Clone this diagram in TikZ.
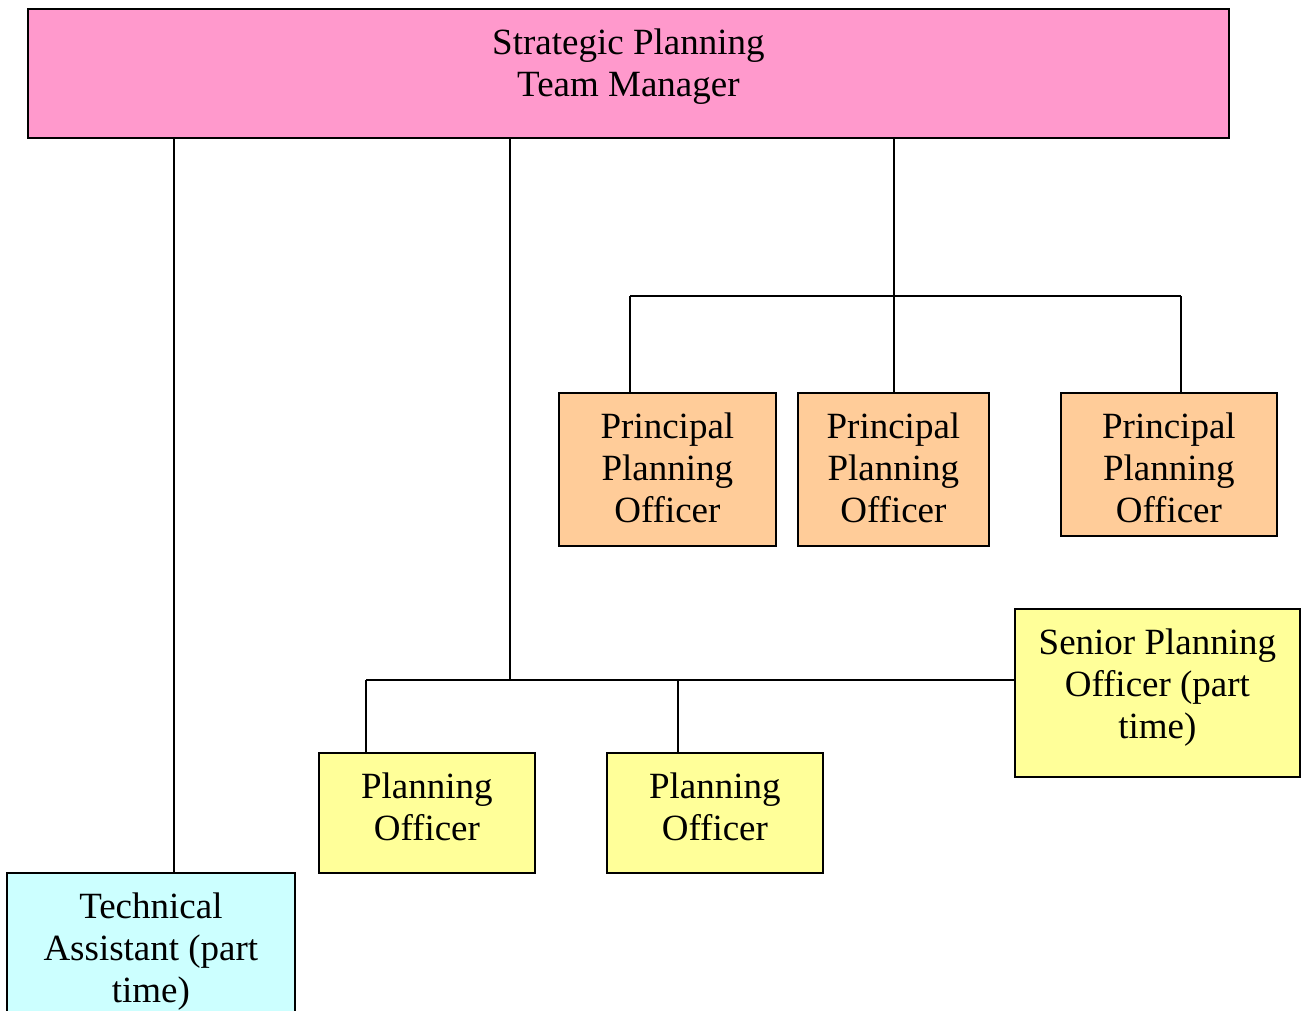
\documentclass[tikz,border=0pt]{standalone}
\usepackage{fontspec}
\setmainfont{Liberation Serif}
\usepackage{tikz}
\usetikzlibrary{calc}

\definecolor{mgrpink}{RGB}{255,153,204}
\definecolor{ppoorange}{RGB}{255,204,153}
\definecolor{poyellow}{RGB}{255,255,153}
\definecolor{tacyan}{RGB}{204,255,255}

\begin{document}
\begin{tikzpicture}[x=1pt,y=1pt,yscale=-1,xscale=1,
  post/.style={draw=black, line width=1.8pt, rectangle, inner sep=0pt, anchor=north west},
  ttl/.style={anchor=north, inner sep=0pt, align=center, font=\fontsize{37}{42}\selectfont},
  link/.style={draw=black, line width=1.8pt}]
\useasboundingbox (0,0) rectangle (1301,1011);
\clip (0,0) rectangle (1301,1011);

%Boxes
\node [post, fill=mgrpink, minimum width=1201, minimum height=129] (mgr) at (27,8) {};
\node [post, fill=ppoorange, minimum width=217, minimum height=153] (ppo1) at (558,392) {};
\node [post, fill=ppoorange, minimum width=191, minimum height=153] (ppo2) at (797,392) {};
\node [post, fill=ppoorange, minimum width=216, minimum height=143] (ppo3) at (1060,392) {};
\node [post, fill=poyellow, minimum width=285, minimum height=168] (spo) at (1014,608) {};
\node [post, fill=poyellow, minimum width=216, minimum height=120] (po1) at (318,752) {};
\node [post, fill=poyellow, minimum width=216, minimum height=120] (po2) at (606,752) {};
\node [post, fill=tacyan, minimum width=288, minimum height=170] (ta) at (6,872) {};

% Text Node
\node [ttl] (mgr-t) at ($(mgr.north)+(0,20.5)$) {Strategic Planning\\Team Manager};
% Text Node
\node [ttl] (ppo1-t) at ($(ppo1.north)+(0,20.5)$) {Principal\\Planning\\Officer};
% Text Node
\node [ttl] (ppo2-t) at ($(ppo2.north)+(0,20.5)$) {Principal\\Planning\\Officer};
% Text Node
\node [ttl] (ppo3-t) at ($(ppo3.north)+(0,20.5)$) {Principal\\Planning\\Officer};
% Text Node
\node [ttl] (spo-t) at ($(spo.north)+(0,20.5)$) {Senior Planning\\Officer (part\\time)};
% Text Node
\node [ttl] (po1-t) at ($(po1.north)+(0,20.5)$) {Planning\\Officer};
% Text Node
\node [ttl] (po2-t) at ($(po2.north)+(0,20.5)$) {Planning\\Officer};
% Text Node
\node [ttl] (ta-t) at ($(ta.north)+(0,20.5)$) {Technical\\Assistant (part\\time)};

%Junctions
\coordinate (tx) at (174,0);
\coordinate (px) at (510,680);
\coordinate (jx) at (894,296);
\coordinate (b1l) at (630,296);
\coordinate (b1r) at (1181,296);
\coordinate (b2l) at (366,680);
\coordinate (p2x) at (678,680);

%Straight Lines
\draw [link] (mgr.south -| tx) -- (ta.north -| tx);
%Straight Lines
\draw [link] (mgr.south -| px) -- (px);
\draw [link] (b2l) -- (spo.west |- b2l);
\draw [link] (b2l) -- (po1.north -| b2l);
\draw [link] (p2x) -- (po2.north -| p2x);
%Straight Lines
\draw [link] (mgr.south -| jx) -- ($(jx)+(0,24)$);
\draw [link] (b1l) -- (b1r);
\draw [link] (b1l) -- (ppo1.north -| b1l);
\draw [link] (jx) -- (ppo2.north -| jx);
\draw [link] (b1r) -- (ppo3.north -| b1r);

\end{tikzpicture}
\end{document}
